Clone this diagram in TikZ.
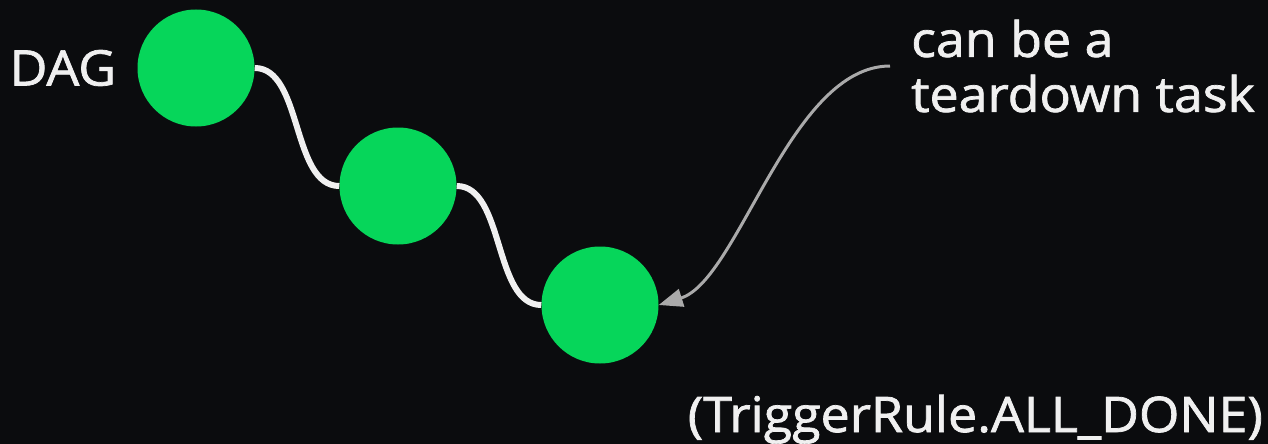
\documentclass[tikz,border=0pt]{standalone}
\usepackage{fontspec}
\setmainfont{Open Sans}[FakeStretch=1.06, FakeBold=1.5]
\usepackage{xcolor}
\usetikzlibrary{arrows.meta, positioning}

\definecolor{bgdark}{HTML}{0B0C0E}
\definecolor{taskgreen}{HTML}{06D65A}
\definecolor{textwhite}{HTML}{F0F0F0}
\definecolor{arrowgray}{HTML}{AAAAAA}

\begin{document}
\begin{tikzpicture}[x=1pt, y=-1pt,
    task/.style={circle, fill=taskgreen, minimum size=117pt, inner sep=0pt},
    caption/.style={text=textwhite, font=\fontsize{49}{55}\selectfont, inner sep=0pt},
    link/.style={draw=textwhite, line width=6pt},
    pointer/.style={draw=arrowgray, line width=3pt, -{Triangle[length=24pt, width=18pt]}}]
      \fill[bgdark] (0,0) rectangle (1268,444);
      \useasboundingbox (0,0) rectangle (1268,444);
      \node[task] (t1) at (196,68) {};
      \node[task] (t2) at (398,186) {};
      \node[task] (t3) at (600,305) {};
      \node[caption, left=21pt of t1] (dag) {DAG};
      \draw[link] (t1.east) .. controls +(48,0) and +(-48,0) .. (t2.west);
      \draw[link] (t2.east) .. controls +(48,0) and +(-48,0) .. (t3.west);
      \node[caption, align=left, anchor=west, inner xsep=21pt] (note) at (890,66) {can be a\\teardown task};
      \draw[pointer] (note.west) .. controls +(-100,0) and +(80,-25) .. (t3.east);
      \node[caption, anchor=base east] (rule) at (1263,432) {(TriggerRule.ALL\_DONE)};
    \end{tikzpicture}
\end{document}
